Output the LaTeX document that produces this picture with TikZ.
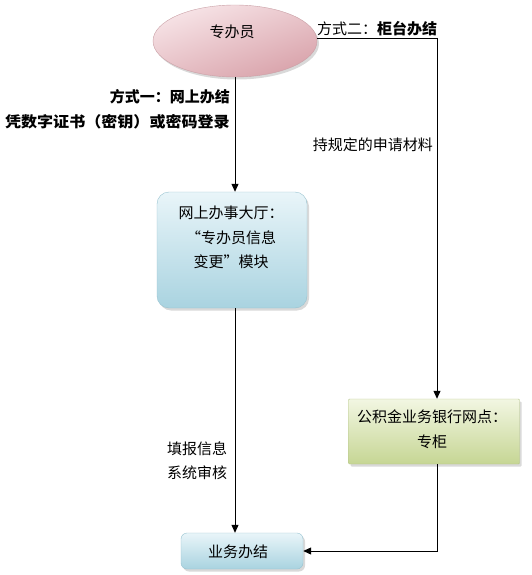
\documentclass[tikz,border=0pt]{standalone}
\usepackage{fontspec}
\setmainfont{Noto Sans CJK SC}
\usetikzlibrary{arrows.meta,shapes.geometric,shadows}
\definecolor{pinkT}{HTML}{F7E4E7}
\definecolor{pinkB}{HTML}{D9A3AB}
\definecolor{pinkD}{HTML}{C9A0A6}
\definecolor{blueT}{HTML}{E9F5F9}
\definecolor{blueB}{HTML}{A9D3E0}
\definecolor{blueD}{HTML}{98C3D0}
\definecolor{grnT}{HTML}{F2F6E2}
\definecolor{grnB}{HTML}{C6D694}
\definecolor{grnD}{HTML}{B5C58A}
\tikzset{
  txt/.style={inner sep=0pt, font=\fontsize{15}{24.5}\selectfont, text=black},
  btxt/.style={txt, font=\fontsize{15}{24.5}\selectfont\bfseries},
  shad/.style={drop shadow={opacity=0.3, shadow xshift=2pt, shadow yshift=-2.5pt}},
  flow/.style={draw=black, line width=1pt, -{Triangle[width=7pt,length=8pt]}},
}
\begin{document}
\begin{tikzpicture}[x=1pt,y=-1pt]
\useasboundingbox (0,0) rectangle (532,575);
% nodes
\node[ellipse, minimum width=164pt, minimum height=72pt, draw=pinkD, top color=pinkT, bottom color=pinkB, shading angle=20, shad] (emp) at (235,41) {};
\node[txt] (empt) at (232,32) {专办员};

\node[rectangle, rounded corners=12pt, minimum width=150pt, minimum height=116pt, draw=blueD, top color=blueT, bottom color=blueB, shad] (hall) at (232,250) {};
\node[txt, align=center] (hallt) at (231,237.5) {网上办事大厅：\\“专办员信息\\变更”模块};

\node[rectangle, rounded corners=1pt, minimum width=171pt, minimum height=65pt, draw=grnD, top color=grnT, bottom color=grnB, shad] (bank) at (434,431.5) {};
\node[txt, align=center] (bankt) at (432,429) {公积金业务银行网点：\\专柜};

\node[rectangle, rounded corners=6pt, minimum width=122pt, minimum height=36pt, draw=blueD, top color=blueT, bottom color=blueB, shad] (done) at (242,551) {};
\node[txt] (donet) at (238,552) {业务办结};

% connector helper coordinates
\coordinate (lx) at (235,0);
\coordinate (rx) at (437,39);

% connectors
\draw[flow] (emp.south) -- (lx |- hall.north);
\draw[flow] (lx |- hall.south) -- (lx |- done.north);
\draw[flow] (emp.east |- rx) -| (rx |- bank.north);
\draw[flow] (rx |- bank.south) |- (done.east);

% labels
\node[txt, anchor=west] (m2) at (317,29) {方式二：\textbf{柜台办结}};
\node[btxt, anchor=east] (m1) at (230,97) {方式一：网上办结};
\node[btxt, anchor=east] (m1b) at (230,122) {\scalebox{1.07}[1]{凭数字证书（密钥）或密码登录}};
\node[txt, anchor=east] (mat) at (433,145) {持规定的申请材料};
\node[txt, anchor=west] (f1) at (167,449) {填报信息};
\node[txt, anchor=west] (f2) at (167,473) {系统审核};
\end{tikzpicture}
\end{document}
